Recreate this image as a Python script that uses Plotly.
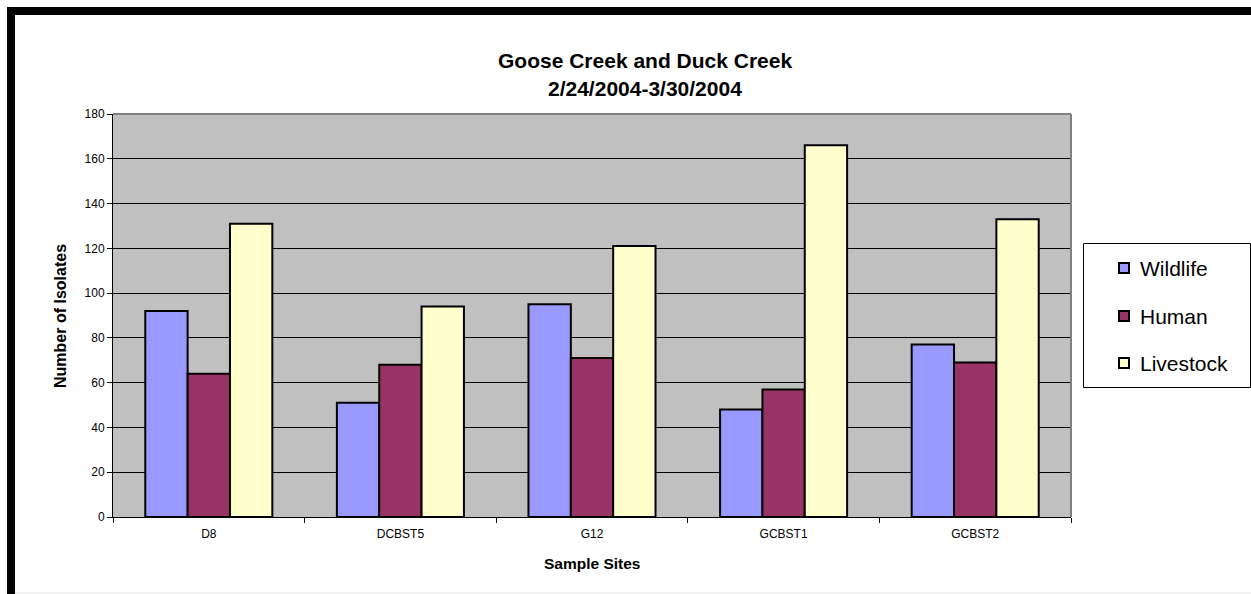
import plotly.graph_objects as go

sites = ["D8", "DCBST5", "G12", "GCBST1", "GCBST2"]
wildlife = [92, 51, 95, 48, 77]
human = [64, 68, 71, 57, 69]
livestock = [131, 94, 121, 166, 133]
y_ticks = [0, 20, 40, 60, 80, 100, 120, 140, 160, 180]
series_names = ["Wildlife", "Human", "Livestock"]
series_colors = ["#9999FF", "#993366", "#FFFFCC"]

W, H = 1251, 594
L, R, T, B = 113, 180, 114, 77
pw, ph = W - L - R, H - T - B

def px_x(x):
    return (x - L) / pw

def px_y(y):
    return (H - B - y) / ph

fig = go.Figure()
for name, vals, col in zip(series_names, [wildlife, human, livestock], series_colors):
    fig.add_trace(go.Bar(
        x=sites, y=vals, name=name,
        marker=dict(color=col, line=dict(color="black", width=2)),
    ))

font_family = "Liberation Sans, Arial, sans-serif"

annotations = [
    dict(text="<b>Goose Creek and Duck Creek</b>", x=px_x(645), y=px_y(60), xref="paper", yref="paper",
         showarrow=False, font=dict(size=21), xanchor="center", yanchor="middle"),
    dict(text="<b>2/24/2004-3/30/2004</b>", x=px_x(645), y=px_y(88), xref="paper", yref="paper",
         showarrow=False, font=dict(size=21), xanchor="center", yanchor="middle"),
    dict(text="<b>Sample Sites</b>", x=px_x(592), y=px_y(563), xref="paper", yref="paper",
         showarrow=False, font=dict(size=15.5), xanchor="center", yanchor="middle"),
    dict(text="<b>Number of Isolates</b>", x=px_x(60), y=px_y(316), xref="paper", yref="paper",
         showarrow=False, font=dict(size=16), textangle=-90, xanchor="center", yanchor="middle"),
]

shapes = [
    dict(type="line", xref="paper", yref="paper", x0=0, x1=1, y0=1, y1=1,
         line=dict(color="#808080", width=2)),
    dict(type="line", xref="paper", yref="paper", x0=1, x1=1, y0=0, y1=1,
         line=dict(color="#808080", width=2)),
    dict(type="rect", xref="paper", yref="paper", x0=px_x(11), x1=px_x(1270), y0=px_y(11), y1=px_y(620),
         line=dict(color="black", width=8), layer="above"),
    dict(type="line", xref="paper", yref="paper", x0=px_x(15), x1=px_x(1251), y0=px_y(593), y1=px_y(593),
         line=dict(color="#E6E6E6", width=1)),
    # legend box
    dict(type="rect", xref="paper", yref="paper", x0=px_x(1083.5), x1=px_x(1250.5), y0=px_y(243.5), y1=px_y(387.5),
         line=dict(color="black", width=1), fillcolor="white"),
]

leg_rows = [268, 316, 363]
for name, col, ry in zip(series_names, series_colors, leg_rows):
    shapes.append(dict(type="rect", xref="paper", yref="paper",
                       x0=px_x(1119), x1=px_x(1129), y0=px_y(ry - 5), y1=px_y(ry + 5),
                       line=dict(color="black", width=2), fillcolor=col))
    annotations.append(dict(text=name, x=px_x(1138), y=px_y(ry), xref="paper", yref="paper",
                            showarrow=False, font=dict(size=21), xanchor="left", yanchor="middle"))

fig.update_layout(
    width=W, height=H,
    margin=dict(l=L, r=R, t=T, b=B),
    paper_bgcolor="white",
    plot_bgcolor="#C0C0C0",
    barmode="group",
    bargap=0.337,
    bargroupgap=0,
    font=dict(family=font_family, color="black"),
    showlegend=False,
    xaxis=dict(
        showgrid=False, showline=True, linecolor="black", linewidth=1,
        ticks="outside", tickson="boundaries", ticklen=5, tickcolor="black",
        tickfont=dict(size=12), range=[-0.5, 4.5], fixedrange=True,
        ticklabelstandoff=6,
    ),
    yaxis=dict(
        range=[0, 180], tickvals=y_ticks, showgrid=True, gridcolor="black", gridwidth=1,
        showline=True, linecolor="black", linewidth=1, ticks="outside", ticklen=5,
        tickcolor="black", tickfont=dict(size=12), zeroline=False,
    ),
    annotations=annotations,
    shapes=shapes,
)

fig.write_html("out.html")
